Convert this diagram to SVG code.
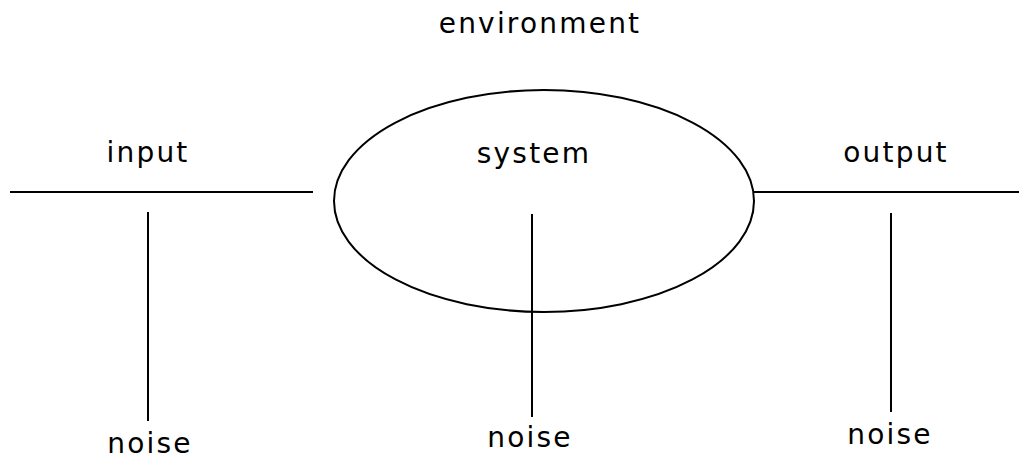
<svg xmlns="http://www.w3.org/2000/svg" width="1021" height="459" viewBox="0 0 1021 459">
  <style>
    .lbl { font-family: "DejaVu Sans", "Liberation Sans", sans-serif; font-size: 28px; fill: #000; letter-spacing: 2.2px; text-anchor: middle; }
    .ln { stroke: #000; stroke-width: 2; fill: none; }
  </style>
  <rect width="1021" height="459" fill="#fff"/>
  <g id="environment">
    <text class="lbl" x="540" y="33">environment</text>
  </g>
  <g id="system">
    <ellipse class="ln" cx="544" cy="201" rx="210" ry="111"/>
    <text class="lbl" x="534" y="163">system</text>
  </g>
  <g id="input">
    <text class="lbl" x="148" y="162">input</text>
  </g>
  <g id="output">
    <text class="lbl" x="896" y="162">output</text>
  </g>
  <g id="noise-input">
    <text class="lbl" x="150" y="453">noise</text>
  </g>
  <g id="noise-system">
    <text class="lbl" x="530" y="447">noise</text>
  </g>
  <g id="noise-output">
    <text class="lbl" x="890" y="444">noise</text>
  </g>
  <g id="connectors">
    <line class="ln" x1="10" y1="192" x2="313" y2="192"/>
    <line class="ln" x1="754" y1="192" x2="1019" y2="192"/>
    <line class="ln" x1="148" y1="212" x2="148" y2="421"/>
    <line class="ln" x1="532" y1="214" x2="532" y2="417"/>
    <line class="ln" x1="891" y1="213" x2="891" y2="412"/>
  </g>
</svg>
